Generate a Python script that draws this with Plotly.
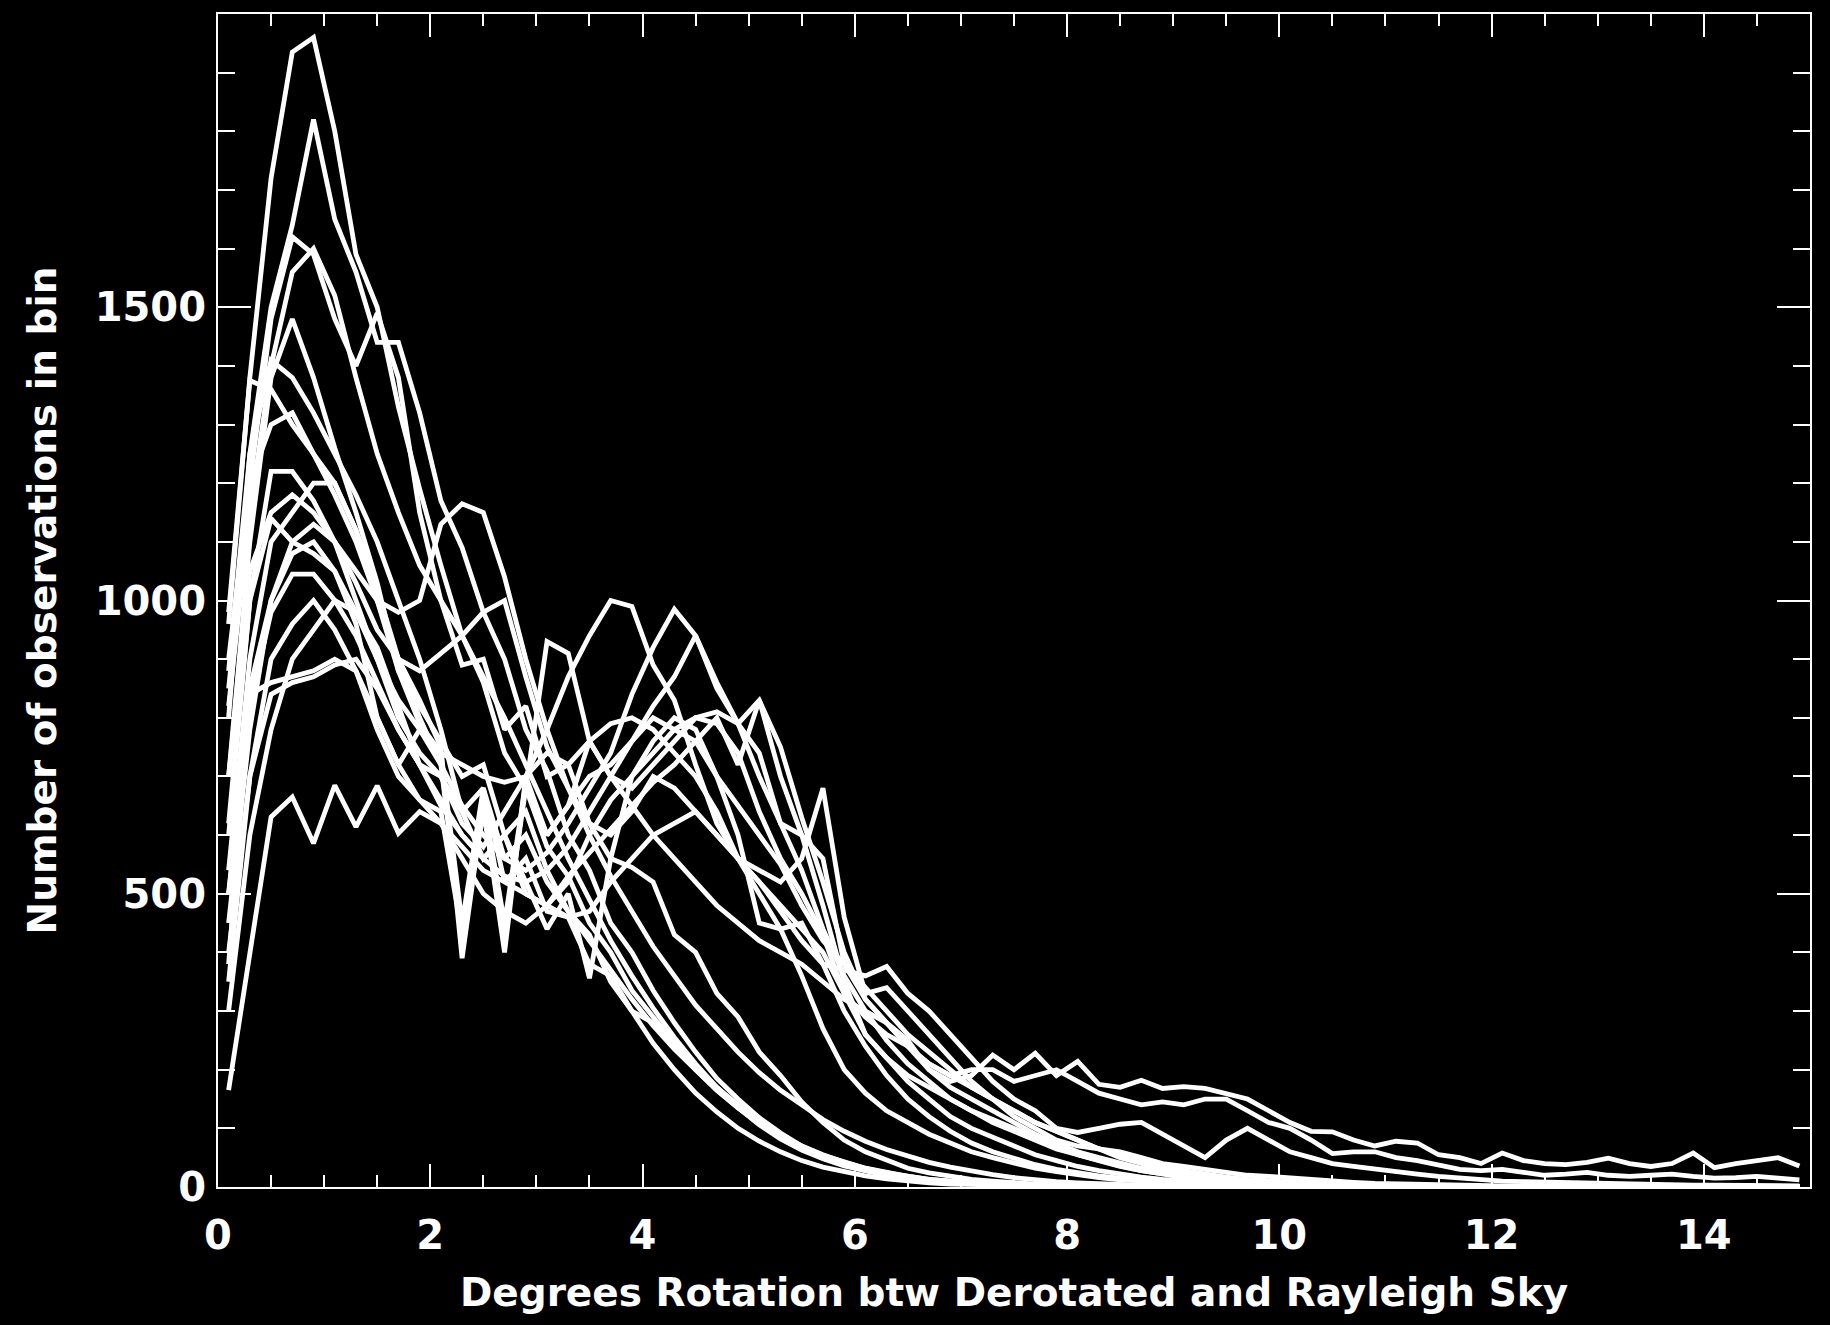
import plotly.graph_objects as go

# Histogram bin centres (degrees), 0.2 degree bins from 0 to 15
bin_centres = [round(0.1 + 0.2 * i, 1) for i in range(75)]

# Counts per bin for each data set (groups of ten bins per row)
counts_a = [960, 1380, 1720, 1935, 1960, 1800, 1590, 1500, 1330, 1190,
            1060, 940, 860, 740, 680, 580, 530, 450, 400, 335,
            290, 245, 205, 170, 140, 112, 88, 68, 52, 40,
            30, 22, 16, 12, 9, 7, 5, 4, 3, 2,
            2, 1, 1, 1, 0, 0, 0, 0, 0, 0,
            0, 0, 0, 0, 0, 0, 0, 0, 0, 0,
            0, 0, 0, 0, 0, 0, 0, 0, 0, 0,
            0, 0, 0, 0, 0]
counts_b = [880, 1250, 1500, 1640, 1820, 1650, 1560, 1440, 1440, 1320,
            1170, 1090, 980, 900, 780, 710, 600, 540, 450, 400,
            335, 280, 230, 185, 150, 118, 92, 70, 54, 42,
            32, 24, 18, 13, 10, 7, 5, 4, 3, 2,
            2, 1, 1, 1, 1, 0, 0, 0, 0, 0,
            0, 0, 0, 0, 0, 0, 0, 0, 0, 0,
            0, 0, 0, 0, 0, 0, 0, 0, 0, 0,
            0, 0, 0, 0, 0]
counts_c = [850, 1200, 1480, 1620, 1590, 1480, 1400, 1490, 1380, 1150,
            1000, 940, 870, 800, 720, 640, 560, 490, 420, 360,
            305, 255, 210, 170, 135, 106, 82, 63, 48, 36,
            27, 20, 15, 11, 8, 6, 4, 3, 2, 2,
            1, 1, 1, 0, 0, 0, 0, 0, 0, 0,
            0, 0, 0, 0, 0, 0, 0, 0, 0, 0,
            0, 0, 0, 0, 0, 0, 0, 0, 0, 0,
            0, 0, 0, 0, 0]
counts_d = [820, 1150, 1400, 1560, 1600, 1520, 1380, 1250, 1150, 1060,
            1000, 890, 900, 780, 820, 700, 720, 620, 560, 545,
            520, 430, 400, 330, 290, 230, 190, 145, 110, 80,
            60, 45, 32, 24, 18, 13, 10, 7, 5, 4,
            3, 2, 2, 1, 1, 1, 0, 0, 0, 0,
            0, 0, 0, 0, 0, 0, 0, 0, 0, 0,
            0, 0, 0, 0, 0, 0, 0, 0, 0, 0,
            0, 0, 0, 0, 0]
counts_e = [700, 1100, 1380, 1480, 1380, 1260, 1150, 1030, 880, 820,
            760, 700, 720, 600, 640, 540, 470, 430, 350, 300,
            245, 200, 160, 128, 100, 78, 60, 45, 34, 26,
            19, 14, 10, 7, 5, 4, 3, 2, 2, 1,
            1, 1, 0, 0, 0, 0, 0, 0, 0, 0,
            0, 0, 0, 0, 0, 0, 0, 0, 0, 0,
            0, 0, 0, 0, 0, 0, 0, 0, 0, 0,
            0, 0, 0, 0, 0]
counts_f = [800, 1250, 1410, 1380, 1320, 1250, 1180, 1100, 1000, 900,
            780, 640, 680, 520, 560, 470, 460, 380, 360, 300,
            280, 240, 200, 165, 135, 108, 85, 65, 50, 38,
            28, 21, 15, 11, 8, 6, 4, 3, 2, 2,
            1, 1, 0, 0, 0, 0, 0, 0, 0, 0,
            0, 0, 0, 0, 0, 0, 0, 0, 0, 0,
            0, 0, 0, 0, 0, 0, 0, 0, 0, 0,
            0, 0, 0, 0, 0]
counts_g = [980, 1375, 1360, 1300, 1250, 1200, 1120, 1000, 880, 790,
            740, 450, 680, 560, 600, 520, 470, 420, 370, 320,
            275, 235, 200, 165, 135, 110, 88, 70, 55, 42,
            32, 24, 18, 13, 10, 7, 5, 4, 3, 2,
            2, 1, 1, 0, 0, 0, 0, 0, 0, 0,
            0, 0, 0, 0, 0, 0, 0, 0, 0, 0,
            0, 0, 0, 0, 0, 0, 0, 0, 0, 0,
            0, 0, 0, 0, 0]
counts_h = [620, 1000, 1220, 1220, 1170, 1100, 1000, 900, 830, 780,
            740, 720, 700, 690, 700, 780, 870, 940, 1000, 990,
            890, 830, 720, 620, 560, 500, 440, 360, 270, 200,
            160, 130, 110, 90, 75, 60, 50, 40, 32, 26,
            20, 16, 12, 10, 8, 6, 5, 4, 3, 2,
            2, 1, 1, 1, 0, 0, 0, 0, 0, 0,
            0, 0, 0, 0, 0, 0, 0, 0, 0, 0,
            0, 0, 0, 0, 0]
counts_i = [540, 900, 1100, 1150, 1200, 1200, 1120, 1020, 900, 800,
            720, 650, 600, 560, 540, 570, 620, 680, 740, 840,
            920, 985, 940, 850, 790, 830, 750, 630, 520, 400,
            320, 280, 240, 200, 170, 150, 130, 110, 90, 75,
            60, 50, 40, 32, 26, 20, 16, 12, 10, 8,
            6, 5, 4, 3, 2, 2, 1, 1, 1, 0,
            0, 0, 0, 0, 0, 0, 0, 0, 0, 0,
            0, 0, 0, 0, 0]
counts_j = [500, 820, 980, 1045, 1045, 1000, 940, 860, 780, 720,
            660, 600, 560, 530, 520, 540, 580, 640, 700, 760,
            820, 870, 940, 860, 790, 740, 620, 600, 560, 380,
            320, 280, 240, 210, 190, 170, 150, 130, 110, 95,
            80, 65, 50, 40, 30, 24, 18, 14, 10, 8,
            6, 5, 4, 3, 2, 2, 1, 1, 1, 0,
            0, 0, 0, 0, 0, 0, 0, 0, 0, 0,
            0, 0, 0, 0, 0]
counts_k = [400, 700, 840, 860, 870, 890, 900, 850, 780, 720,
            700, 640, 560, 600, 500, 480, 530, 570, 610, 650,
            690, 720, 760, 800, 720, 830, 700, 600, 480, 350,
            260, 220, 190, 170, 150, 130, 115, 100, 85, 70,
            55, 45, 35, 28, 22, 17, 13, 10, 8, 6,
            5, 4, 3, 2, 2, 1, 1, 1, 0, 0,
            0, 0, 0, 0, 0, 0, 0, 0, 0, 0,
            0, 0, 0, 0, 0]
counts_l = [165, 400, 631, 665, 586, 685, 614, 684, 603, 640,
            620, 560, 500, 470, 450, 480, 520, 600, 660, 700,
            740, 780, 800, 810, 790, 700, 620, 540, 440, 360,
            300, 250, 210, 180, 150, 130, 110, 95, 80, 65,
            55, 45, 36, 28, 22, 17, 13, 10, 8, 6,
            5, 4, 3, 2, 2, 1, 1, 1, 0, 0,
            0, 0, 0, 0, 0, 0, 0, 0, 0, 0,
            0, 0, 0, 0, 0]
counts_m = [900, 1200, 1300, 1320, 1250, 1180, 1100, 1000, 900, 830,
            750, 390, 650, 400, 700, 600, 650, 760, 700, 650,
            600, 560, 520, 480, 450, 420, 400, 380, 350, 320,
            300, 280, 250, 200, 180, 190, 225, 200, 228, 190,
            214, 175, 170, 182, 168, 171, 168, 160, 150, 130,
            110, 95, 94, 80, 70, 78, 75, 55, 50, 40,
            58, 45, 40, 38, 42, 49, 40, 35, 40, 58,
            33, 40, 44, 50, 36]
counts_n = [700, 1050, 1150, 1180, 1150, 1100, 1050, 1000, 980, 1000,
            1130, 1165, 1150, 1040, 900, 780, 680, 600, 530, 470,
            410, 360, 310, 270, 230, 195, 165, 140, 115, 95,
            78, 64, 52, 42, 34, 27, 21, 16, 12, 9,
            7, 5, 4, 3, 2, 2, 1, 1, 0, 0,
            0, 0, 0, 0, 0, 0, 0, 0, 0, 0,
            0, 0, 0, 0, 0, 0, 0, 0, 0, 0,
            0, 0, 0, 0, 0]
counts_o = [500, 850, 1000, 1100, 1130, 1100, 1030, 950, 900, 880,
            910, 940, 980, 1000, 870, 750, 680, 620, 600, 640,
            700, 680, 640, 600, 560, 520, 480, 440, 400, 330,
            290, 260, 240, 210, 190, 200, 200, 180, 190, 200,
            180, 160, 150, 140, 145, 140, 150, 150, 130, 110,
            100, 80, 57, 60, 60, 50, 45, 38, 30, 28,
            30, 25, 20, 22, 25, 20, 18, 20, 22, 18,
            15, 16, 18, 15, 12]
counts_p = [350, 700, 900, 960, 1000, 950, 880, 800, 720, 660,
            620, 580, 540, 520, 500, 480, 460, 470, 520, 560,
            600, 620, 640, 600, 560, 540, 520, 560, 680, 460,
            330, 340, 300, 260, 220, 180, 150, 130, 110, 95,
            80, 65, 55, 45, 36, 28, 22, 17, 13, 10,
            8, 6, 5, 4, 3, 2, 2, 1, 1, 0,
            0, 0, 0, 0, 0, 0, 0, 0, 0, 0,
            0, 0, 0, 0, 0]
counts_q = [600, 1000, 1140, 1100, 1080, 1050, 980, 900, 800, 740,
            700, 620, 580, 640, 700, 740, 720, 760, 790, 800,
            780, 740, 700, 640, 560, 520, 470, 420, 380, 370,
            360, 376, 330, 300, 260, 220, 180, 150, 130, 100,
            93, 100, 107, 110, 90, 70, 50, 80, 100, 80,
            60, 50, 40, 35, 30, 25, 22, 18, 15, 12,
            10, 9, 8, 7, 6, 5, 5, 4, 4, 3,
            3, 3, 2, 2, 2]
counts_r = [380, 840, 860, 870, 880, 900, 880, 780, 700, 660,
            640, 430, 660, 450, 690, 600, 650, 700, 720, 760,
            800, 780, 760, 700, 650, 600, 550, 480, 420, 380,
            340, 300, 260, 230, 200, 170, 150, 120, 100, 80,
            70, 65, 60, 50, 40, 35, 30, 25, 20, 18,
            15, 12, 10, 8, 6, 5, 4, 3, 3, 2,
            2, 2, 1, 1, 1, 1, 1, 1, 1, 1,
            1, 1, 1, 1, 1]
counts_s = [450, 780, 1000, 1080, 1100, 1050, 960, 800, 720, 780,
            720, 420, 640, 430, 680, 930, 910, 760, 700, 680,
            720, 760, 800, 790, 740, 640, 560, 500, 430, 330,
            260, 220, 180, 150, 120, 100, 85, 70, 55, 45,
            35, 28, 22, 17, 13, 10, 8, 6, 4, 3,
            2, 2, 1, 1, 0, 0, 0, 0, 0, 0,
            0, 0, 0, 0, 0, 0, 0, 0, 0, 0,
            0, 0, 0, 0, 0]
counts_t = [300, 600, 780, 900, 950, 1000, 980, 920, 820, 720,
            650, 600, 560, 600, 520, 440, 500, 356, 560, 700,
            760, 800, 780, 700, 600, 450, 440, 450, 380, 300,
            240, 190, 150, 120, 95, 75, 60, 48, 38, 30,
            24, 19, 15, 12, 9, 7, 5, 4, 3, 2,
            2, 1, 1, 0, 0, 0, 0, 0, 0, 0,
            0, 0, 0, 0, 0, 0, 0, 0, 0, 0,
            0, 0, 0, 0, 0]

all_counts = [counts_a, counts_b, counts_c, counts_d, counts_e, counts_f,
              counts_g, counts_h, counts_i, counts_j, counts_k, counts_l,
              counts_m, counts_n, counts_o, counts_p, counts_q, counts_r,
              counts_s, counts_t]

x_ticks = [0, 2, 4, 6, 8, 10, 12, 14]
y_ticks = [0, 500, 1000, 1500]

FONT = "DejaVu Sans"

fig = go.Figure()
for counts in all_counts:
    fig.add_trace(go.Scatter(
        x=bin_centres, y=counts, mode="lines",
        line=dict(color="white", width=4.8),
        hoverinfo="skip", showlegend=False,
    ))

axis_common = dict(
    showline=True, linecolor="white", linewidth=2,
    mirror="ticks", ticks="inside", tickcolor="white", tickwidth=2,
    showgrid=False, zeroline=False,
    tickfont=dict(family=FONT, size=40, color="white", weight="bold"),
)

fig.update_xaxes(
    range=[0, 15], tickvals=x_ticks, ticklen=23,
    minor=dict(dtick=0.5, tick0=0, ticks="inside", ticklen=12,
               tickwidth=2, tickcolor="white", showgrid=False),
    ticklabelstandoff=12,
    title=dict(text="Degrees Rotation btw Derotated and Rayleigh Sky",
               font=dict(family=FONT, size=39, color="white", weight="bold"),
               standoff=22),
    **axis_common,
)
fig.update_yaxes(
    range=[0, 2000], tickvals=y_ticks, ticklen=33,
    minor=dict(dtick=100, tick0=0, ticks="inside", ticklen=17,
               tickwidth=2, tickcolor="white", showgrid=False),
    ticklabelstandoff=2,
    title=dict(text="Number of observations in bin",
               font=dict(family=FONT, size=39, color="white", weight="bold"),
               standoff=26),
    **axis_common,
)

fig.update_layout(
    width=1830, height=1325,
    paper_bgcolor="black", plot_bgcolor="black",
    margin=dict(l=218, r=20, t=14, b=138),
    showlegend=False,
)

fig.write_html("out.html")
